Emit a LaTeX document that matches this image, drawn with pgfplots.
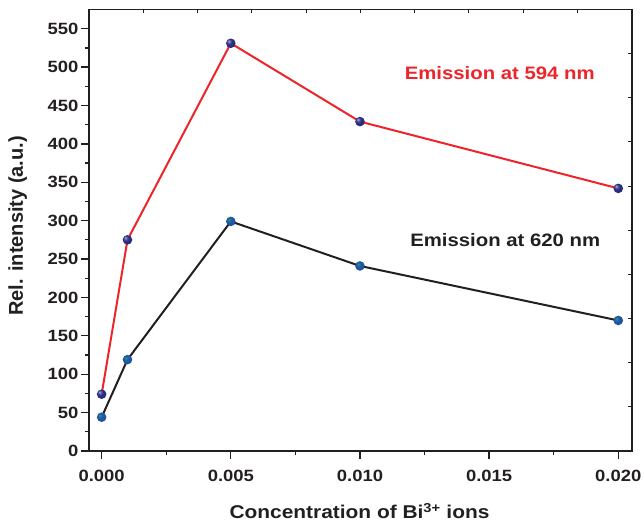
\documentclass[border=0pt]{standalone}
\usepackage{fontspec}
\setmainfont{Liberation Sans}[FakeStretch=1.13]
\newfontfamily\ylabfont{Liberation Sans}
\usepackage{pgfplots}
\pgfplotsset{compat=1.18}
\usetikzlibrary{plotmarks}
\definecolor{redc}{RGB}{237,36,42}
\definecolor{blackc}{RGB}{35,31,32}
\definecolor{navyc}{RGB}{44,46,134}
\definecolor{bluec}{RGB}{34,88,170}
\definecolor{greenc}{RGB}{30,170,80}
\pgfdeclareradialshading{navyshade}{\pgfqpoint{-12bp}{12bp}}{color(0bp)=(white!65!navyc); color(6bp)=(navyc!70!white); color(14bp)=(navyc); color(35bp)=(navyc!85!black); color(50bp)=(navyc!65!black)}
\pgfdeclareradialshading{blueshade}{\pgfqpoint{-10bp}{10bp}}{color(0bp)=(greenc); color(5bp)=(greenc!50!bluec); color(12bp)=(bluec); color(35bp)=(bluec!88!black); color(50bp)=(bluec!65!black)}
\pgfdeclareplotmark{navyball}{\pgfpathcircle{\pgfpointorigin}{\pgfplotmarksize}\pgfshadepath{navyshade}{0}\pgfusepath{discard}}
\pgfdeclareplotmark{blueball}{\pgfpathcircle{\pgfpointorigin}{\pgfplotmarksize}\pgfshadepath{blueshade}{0}\pgfusepath{discard}}
\begin{document}
\begin{tikzpicture}
\begin{axis}[at={(0,0)}, anchor=south west, scale only axis,
  width=542.7bp, height=441.5bp,
  xmin=0, xmax=10, ymin=0, ymax=10,
  xtick={1,...,9}, ytick={1,...,9}, xticklabels={}, yticklabels={},
  xtick pos=right, ytick pos=right, tick align=inside,
  major tick length=4bp,
  axis line style={draw=none},
  every tick/.style={line width=1.1bp, blackc}]
\end{axis}
\begin{axis}[at={(0,0)}, anchor=south west, scale only axis,
  width=542.7bp, height=441.5bp,
  xmin=-0.00049, xmax=0.02052, ymin=0, ymax=575,
  xtick={0,0.005,0.01,0.015,0.02}, minor x tick num=1,
  ytick={0,50,100,150,200,250,300,350,400,450,500,550}, minor y tick num=1,
  xtick pos=left, ytick pos=left, tick align=outside,
  major tick length=8bp, minor tick length=4bp,
  every tick/.style={line width=1.3bp, blackc},
  axis line style={line width=1.8bp, blackc},
  scaled x ticks=false,
  x tick label style={yshift=-8bp, /pgf/number format/fixed, /pgf/number format/fixed zerofill, /pgf/number format/precision=3},
  y tick label style={xshift=1bp},
  /pgf/number format/assume math mode=true,
  ticklabel style={font=\fontsize{16.3bp}{18bp}\selectfont\bfseries, text=blackc},
  xlabel={Concentration of Bi\textsuperscript{3+} ions},
  ylabel={Rel. intensity (a.u.)},
  xlabel style={at={(axis description cs:0.4984,-0.136)}, anchor=center, font=\fontsize{18.5bp}{20bp}\selectfont\bfseries, text=blackc},
  ylabel style={at={(axis description cs:-0.1314,0.51)}, anchor=center, font=\ylabfont\fontsize{20bp}{22bp}\selectfont\bfseries, text=blackc},
  clip=false]
\addplot[redc, line width=2bp, mark=navyball, mark size=4.8bp] coordinates {
  (0,74) (0.001,275) (0.005,531) (0.010,429) (0.020,342)};
\addplot[blackc, line width=2bp, mark=blueball, mark size=4.8bp] coordinates {
  (0,44) (0.001,119) (0.005,299) (0.010,241) (0.020,170)};
\node[text=redc, font=\fontsize{18bp}{20bp}\selectfont\bfseries] at (axis cs:0.01541,492) {Emission at 594 nm};
\node[text=blackc, font=\fontsize{18bp}{20bp}\selectfont\bfseries] at (axis cs:0.015625,275) {Emission at 620 nm};
\end{axis}
\pgfresetboundingbox
\useasboundingbox (-89bp,-72bp) rectangle (555bp,451bp);
\end{tikzpicture}
\end{document}
